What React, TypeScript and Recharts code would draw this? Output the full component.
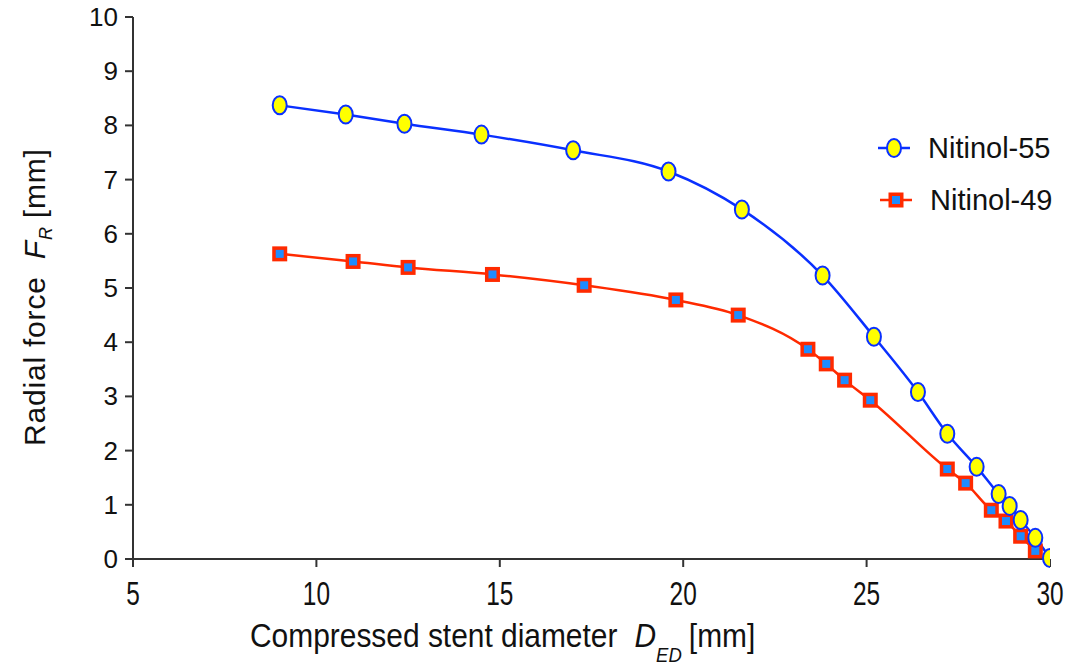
import { LineChart, Line, XAxis, YAxis } from "recharts";

const nitinol55X = [9, 10.8, 12.4, 14.5, 17, 19.6, 21.6, 23.8, 25.2, 26.4, 27.2, 28, 28.6, 28.9, 29.2, 29.6, 30];
const nitinol55Y = [8.37, 8.2, 8.03, 7.83, 7.54, 7.15, 6.45, 5.23, 4.1, 3.08, 2.31, 1.7, 1.2, 0.98, 0.72, 0.39, 0.02];

const nitinol49X = [9, 11, 12.5, 14.8, 17.3, 19.8, 21.5, 23.4, 23.9, 24.4, 25.1, 27.2, 27.7, 28.4, 28.8, 29.2, 29.6];
const nitinol49Y = [5.63, 5.49, 5.38, 5.25, 5.05, 4.78, 4.5, 3.87, 3.6, 3.3, 2.93, 1.66, 1.4, 0.9, 0.7, 0.42, 0.15];

const xTicks = [5, 10, 15, 20, 25, 30];
const yTicks = [0, 1, 2, 3, 4, 5, 6, 7, 8, 9, 10];

const data55 = nitinol55X.map((x, i) => ({ x, y: nitinol55Y[i] }));
const data49 = nitinol49X.map((x, i) => ({ x, y: nitinol49Y[i] }));

const BLUE = "#0a30ff";
const RED = "#ff2a00";
const FONT = "'Liberation Sans', Arial, sans-serif";

const Circle = (p: any) => (
  <ellipse cx={p.cx} cy={p.cy} rx={7} ry={9} fill="#ffff00" stroke={BLUE} strokeWidth={2} />
);

const Square = (p: any) => (
  <g>
    <rect x={p.cx - 7.5} y={p.cy - 7.5} width={15} height={15} fill={RED} />
    <rect x={p.cx - 4} y={p.cy - 4} width={8} height={8} fill="#1e8cff" />
  </g>
);

// condensed look of the x tick labels
const XTick = (p: any) => (
  <text x={0} y={0} textAnchor="middle" fontSize={33} fill="#111" fontFamily={FONT}
    transform={`translate(${p.x},${p.y + 36}) scale(0.74,1)`}>
    {p.payload.value}
  </text>
);

const YTick = (p: any) => (
  <text x={p.x - 5} y={p.y + 9} textAnchor="end" fontSize={26} fill="#111" fontFamily={FONT}>
    {p.payload.value}
  </text>
);

const App = () => {
  return (
    <div style={{ position: "absolute", left: 0, top: 0, width: 1074, height: 666, background: "#fff" }}>
      <LineChart width={1074} height={666} margin={{ top: 17, right: 24, bottom: 47, left: 0 }}>
        <XAxis
          type="number"
          dataKey="x"
          domain={[5, 30]}
          ticks={xTicks}
          allowDataOverflow
          height={60}
          stroke="#333"
          strokeWidth={2}
          tickSize={8}
          tick={<XTick />}
          label={({ viewBox }: any) => (
            <text x={0} y={0} fontSize={34} fill="#111" fontFamily={FONT}
              transform={`translate(250,${viewBox.y + 88}) scale(0.88,1)`}>
              <tspan>Compressed stent diameter </tspan>
              <tspan dx={10} fontStyle="italic">D</tspan>
              <tspan dy={15} fontSize={21} fontStyle="italic">ED</tspan>
              <tspan dx={8} dy={-15}>[mm]</tspan>
            </text>
          )}
        />
        <YAxis
          type="number"
          dataKey="y"
          domain={[0, 10]}
          ticks={yTicks}
          width={133}
          stroke="#333"
          strokeWidth={2}
          tickSize={8}
          tick={<YTick />}
          label={() => (
            <text x={0} y={0} transform="translate(45,446) rotate(-90)" fontSize={30} fill="#111"
              fontFamily={FONT} letterSpacing={0.8}>
              <tspan>Radial force </tspan>
              <tspan dx={8} fontStyle="italic">F</tspan>
              <tspan dy={7} fontSize={18} fontStyle="italic">R</tspan>
              <tspan dx={8} dy={-7}>[mm]</tspan>
            </text>
          )}
        />
        <Line
          data={data49}
          dataKey="y"
          type="monotone"
          stroke={RED}
          strokeWidth={2.5}
          dot={<Square />}
          activeDot={false}
          isAnimationActive={false}
        />
        <Line
          data={data55}
          dataKey="y"
          type="monotone"
          stroke={BLUE}
          strokeWidth={2.5}
          dot={<Circle />}
          activeDot={false}
          isAnimationActive={false}
        />
      </LineChart>
      <svg width={200} height={100} style={{ position: "absolute", left: 878, top: 127 }}>
        <line x1={0} y1={21} x2={32} y2={21} stroke={BLUE} strokeWidth={2.5} />
        <Circle cx={16} cy={21} />
        <text x={50} y={31} fontSize={29} fontFamily={FONT} fill="#111">Nitinol-55</text>
        <line x1={2} y1={73} x2={34} y2={73} stroke={RED} strokeWidth={2.5} />
        <Square cx={18} cy={73} />
        <text x={52} y={83} fontSize={29} fontFamily={FONT} fill="#111">Nitinol-49</text>
      </svg>
    </div>
  );
};

export default App;
